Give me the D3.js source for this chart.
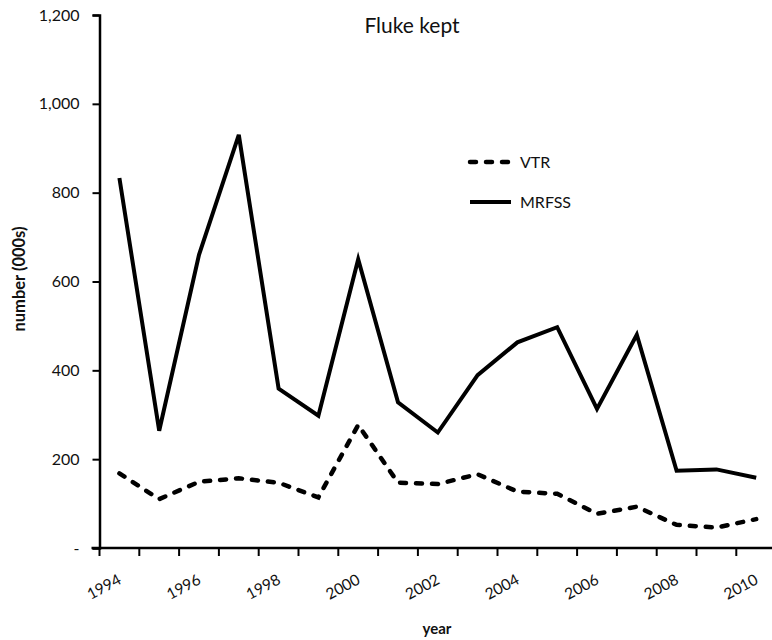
<!DOCTYPE html>
<html>
<head>
<meta charset="utf-8">
<script src="https://cdn.jsdelivr.net/npm/d3@7"></script>
<style>
  html, body { margin: 0; padding: 0; background: #fff; }
  svg { display: block; }
  text { font-family: Lato, "Open Sans", sans-serif; fill: #111; }
</style>
</head>
<body>
<svg id="chart" width="772" height="640"></svg>
<script>
const years = [1994,1995,1996,1997,1998,1999,2000,2001,2002,2003,2004,2005,2006,2007,2008,2009,2010];
const vtr   = [168,110,149,157,147,114,277,147,144,166,127,122,77,93,52,46,65];
const mrfss = [833,264,660,930,359,298,650,328,260,389,463,497,313,480,174,177,158];
const yTicks = [0,200,400,600,800,1000,1200];
const xLabelYears = [1994,1996,1998,2000,2002,2004,2006,2008,2010];
const seriesNames = ["VTR","MRFSS"];

const svg = d3.select("#chart");
const plotLeft = 99.5, plotTop = 15, plotBottom = 548, bandW = 39.8;
const plotRight = plotLeft + bandW * years.length;

const x = d3.scaleBand().domain(years).range([plotLeft, plotRight]);
const y = d3.scaleLinear().domain([0, 1200]).range([plotBottom, plotTop]);

// Title
svg.append("text").attr("x", 412).attr("y", 33).attr("text-anchor", "middle")
  .style("font-size", "21px").text("Fluke kept");

// Y axis
const fmt = d3.format(",");
const yAxis = d3.axisLeft(y).tickValues(yTicks).tickSize(7).tickPadding(13)
  .tickFormat(d => d === 0 ? "-" : fmt(d));
const gy = svg.append("g").attr("transform", `translate(${plotLeft},0)`).call(yAxis);
gy.select(".domain").attr("stroke", "#000").attr("stroke-width", 2.5);
gy.selectAll(".tick line").attr("stroke", "#000").attr("stroke-width", 2);
gy.selectAll(".tick text").style("font-size", "16px").style("font-family", "Lato, sans-serif").attr("fill", "#111");

// X axis line and ticks at category boundaries
const boundaries = d3.range(years.length + 1).map(i => plotLeft + i * bandW);
svg.append("line").attr("x1", plotLeft - 8).attr("x2", plotRight).attr("y1", plotBottom).attr("y2", plotBottom)
  .attr("stroke", "#000").attr("stroke-width", 2.5);
svg.append("g").selectAll("line").data(boundaries).join("line")
  .attr("x1", d => d).attr("x2", d => d).attr("y1", plotBottom).attr("y2", plotBottom + 8)
  .attr("stroke", "#000").attr("stroke-width", 2);

// X labels (rotated)
svg.append("g").selectAll("text").data(xLabelYears).join("text")
  .attr("transform", d => `translate(${x(d) + x.bandwidth() / 2 + 3},${plotBottom + 35}) rotate(-28)`)
  .attr("text-anchor", "end")
  .style("font-size", "15.5px")
  .text(d => d);

// Axis titles
svg.append("text").attr("x", 437).attr("y", 634).attr("text-anchor", "middle")
  .style("font-size", "15px").style("font-weight", "bold").text("year");
svg.append("text").attr("transform", "translate(25,279) rotate(-90)").attr("text-anchor", "middle")
  .style("font-size", "16.5px").style("font-weight", "bold").text("number (000s)");

// Lines
const line = d3.line().x((d, i) => x(years[i]) + x.bandwidth() / 2).y(d => y(d));
svg.append("path").datum(mrfss).attr("d", line).attr("fill", "none")
  .attr("stroke", "#000").attr("stroke-width", 4).attr("stroke-linejoin", "miter");
svg.append("path").datum(vtr).attr("d", line).attr("fill", "none")
  .attr("stroke", "#000").attr("stroke-width", 4.5).attr("stroke-linecap", "round")
  .attr("stroke-dasharray", "6,10");

// Legend
const legend = svg.append("g");
const legY = [162, 202];
seriesNames.forEach((name, i) => {
  const l = legend.append("line").attr("x1", 470).attr("x2", 511)
    .attr("y1", legY[i]).attr("y2", legY[i]).attr("stroke", "#000").attr("stroke-width", i === 0 ? 4.5 : 4);
  if (i === 0) l.attr("stroke-dasharray", "6,10").attr("stroke-linecap", "round");
  legend.append("text").attr("x", 520).attr("y", legY[i] + 6).style("font-size", "16px").text(name);
});
</script>
</body>
</html>
